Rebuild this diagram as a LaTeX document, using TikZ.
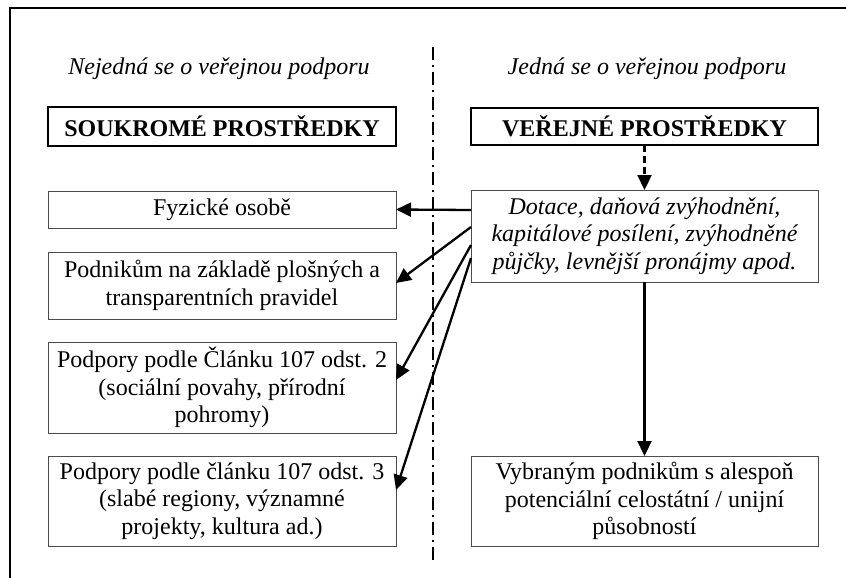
\documentclass[tikz,border=0pt]{standalone}
\usepackage{fontspec}
\setmainfont{Liberation Serif}
\usetikzlibrary{arrows.meta}
\begin{document}
\begin{tikzpicture}[x=1pt,y=-1pt,
  every node/.style={inner sep=0pt, outer sep=0pt, font=\fontsize{24}{27.5}\selectfont},
  box/.style={draw=black!70, line width=0.8pt, align=center, minimum width=348pt},
  headbox/.style={draw=black, line width=2.6pt, align=center, minimum width=347pt, font=\fontsize{24}{27.5}\selectfont\bfseries},
  arr/.style={line width=2.3pt, -{Triangle[length=15pt,width=14pt]}},
  divider/.style={line width=2pt, dash pattern=on 13pt off 5pt on 2pt off 5pt}
]
\useasboundingbox (0,0) rectangle (846,578);
% frame
\draw[line width=2pt] (10,578) -- (10,8) -- (846,8);
% divider
\coordinate (dtop) at (433,47);
\coordinate (dbot) at (433,564);
\draw[divider] (dtop) -- (dbot);
% headings
\node[font=\fontsize{24}{27.5}\selectfont\itshape] (hl) at (219,69) {Nejedná se o veřejnou podporu};
\node[font=\fontsize{24}{27.5}\selectfont\itshape] (hr) at (647,69) {Jedná se o veřejnou podporu};
% left column
\node[headbox, minimum width=348pt, minimum height=39pt] (sou) at (222,126.5) {SOUKROMÉ PROSTŘEDKY};
\node[box, minimum height=37pt] (fyz) at (222,209.5) {Fyzické osobě};
\node[box, minimum height=67pt] (pod) at (222,285.5) {Podnikům na základě plošných a\\transparentních pravidel};
\node[box, minimum height=91pt] (a2) at (222,387.5) {Podpory podle Článku 107 odst. 2\\(sociální povahy, přírodní\\pohromy)};
\node[box, minimum height=90pt] (a3) at (222,501) {Podpory podle článku 107 odst. 3\\(slabé regiony, významné\\projekty, kultura ad.)};
% right column
\node[headbox, minimum height=37pt] (ver) at (644.5,126.5) {VEŘEJNÉ PROSTŘEDKY};
\node[box, minimum width=347pt, minimum height=92pt, font=\fontsize{24}{27.5}\selectfont\itshape] (dot) at (644.5,236) {Dotace, daňová zvýhodnění,\\kapitálové posílení, zvýhodněné\\půjčky, levnější pronájmy apod.};
\node[box, minimum width=347pt, minimum height=90pt] (vyb) at (644.5,501) {Vybraným podnikům s alespoň\\potenciální celostátní / unijní\\působností};
% connectors
\draw[arr, dashed, dash pattern=on 7pt off 4pt] (ver.south) -- (dot.north);
\draw[arr] (dot.south) -- (vyb.north);
\draw[arr] ([yshift=26pt]dot.west) -- (fyz.east);
\draw[arr] ([yshift=9pt]dot.west) -- ([yshift=2.5pt]pod.east);
\draw[arr] ([yshift=-9pt]dot.west) -- ([yshift=7.5pt]a2.east);
\draw[arr] ([yshift=-22pt]dot.west) -- ([yshift=11pt]a3.east);
\end{tikzpicture}
\end{document}
